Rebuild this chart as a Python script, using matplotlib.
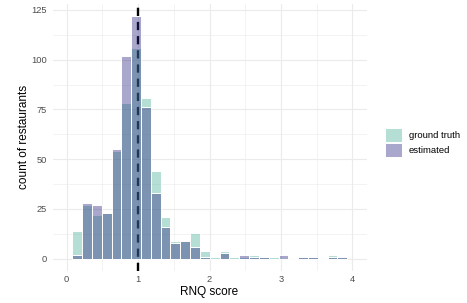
import numpy as np
import matplotlib
matplotlib.use("Agg")
import matplotlib.pyplot as plt
from matplotlib.patches import Patch

# histogram bins (RNQ score)
BIN_START = 0.078
BIN_WIDTH = 0.1375

# counts per bin
ground_truth = [14, 27, 22, 23, 54, 78, 106, 81, 44, 21, 9, 9, 13, 4,
                1, 4, 1, 1, 2, 1, 1, 0, 0, 1, 1, 0, 2, 1]
estimated = [2, 28, 27, 23, 55, 102, 122, 76, 33, 16, 8, 9, 6, 1,
             0, 3, 0, 2, 1, 1, 0, 2, 0, 1, 1, 0, 1, 1]

series_labels = ["ground truth", "estimated"]
x_ticks = [0, 1, 2, 3, 4]
y_ticks = [0, 25, 50, 75, 100, 125]
ref_line = 1.0

# fill colours with alpha (ggplot-style, outline stays opaque white)
GT_FILL = (70 / 255, 177 / 255, 148 / 255, 0.4)
EST_FILL = (42 / 255, 35 / 255, 128 / 255, 0.4)
GRID = "#ebebeb"
TICK_COLOR = "#4d4d4d"

plt.rcParams["font.family"] = ["Liberation Sans", "DejaVu Sans"]

edges = BIN_START + BIN_WIDTH * np.arange(len(ground_truth) + 1)
centers = (edges[:-1] + edges[1:]) / 2

W, H = 467, 303
fig = plt.figure(figsize=(W / 100, H / 100), dpi=100)
ax = fig.add_axes([52.7 / W, 1 - 270.8 / H, 314 / W, 267 / H])

# reference line sits under the bars, so it gets tinted by them
ax.axvline(ref_line, color="black", linewidth=1.7,
           linestyle=(0, (3.5, 2.5)), zorder=1.5)

ax.hist(centers, bins=edges, weights=ground_truth, facecolor=GT_FILL,
        edgecolor="white", linewidth=0.7, zorder=2)
ax.hist(centers, bins=edges, weights=estimated, facecolor=EST_FILL,
        edgecolor="white", linewidth=0.7, zorder=3)

ax.set_xlim(-0.196, 4.2)
ax.set_ylim(-6.1, 128.1)

ax.set_xticks(x_ticks)
ax.set_yticks(y_ticks)
ax.set_xticks(np.arange(0.5, 4.5, 1.0), minor=True)
ax.set_yticks(np.arange(12.5, 130, 25), minor=True)
ax.grid(which="major", color=GRID, linewidth=0.8)
ax.grid(which="minor", color=GRID, linewidth=0.4)
ax.set_axisbelow(True)

ax.tick_params(which="both", length=0)
ax.tick_params(axis="x", labelsize=6.7, labelcolor=TICK_COLOR, pad=3)
ax.tick_params(axis="y", labelsize=6.7, labelcolor=TICK_COLOR, pad=4.3)
for s in ax.spines.values():
    s.set_visible(False)

# axis titles
fig.text(209.5 / W, 1 - 291.6 / H, "RNQ score", fontsize=8.5,
         ha="center", va="center")
fig.text(24 / W, 1 - 137.3 / H, "count of restaurants", fontsize=8.5,
         rotation=90, ha="center", va="center")

# legend
handles = [Patch(facecolor=GT_FILL, edgecolor="white", linewidth=0.7),
           Patch(facecolor=EST_FILL, edgecolor="white", linewidth=0.7)]
fig.legend(handles=handles, labels=series_labels, loc="upper left",
           bbox_to_anchor=(385 / W, 1 - 128.3 / H), frameon=False,
           borderpad=0, borderaxespad=0, handlelength=1.8, handleheight=1.8,
           handletextpad=0.7, labelspacing=0.18, fontsize=6.8)

fig.savefig("out.png", dpi=100)
